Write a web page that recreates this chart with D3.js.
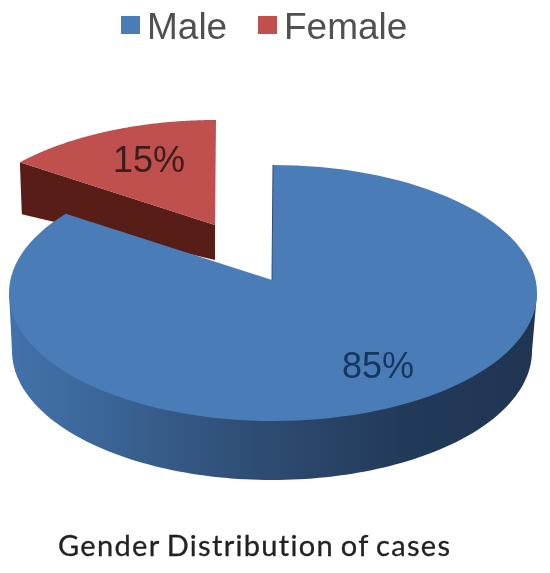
<!DOCTYPE html>
<html>
<head>
<meta charset="utf-8">
<script src="https://cdn.jsdelivr.net/npm/d3@7"></script>
<style>
  html, body { margin: 0; padding: 0; background: #fff; }
  svg { display: block; filter: blur(0.6px); }
  text { font-family: "Liberation Sans", Arial, sans-serif; }
</style>
</head>
<body>
<div id="chart"></div>
<script>
// chart data
var categories = ["Male", "Female"];
var shares = [85, 15];
var title = "Gender Distribution of cases";

// colours for each slice
var topColors = ["#4a7db8", "#c0504d"];
var labelColors = ["#17365d", "#3b1d1b"];

var width = 550, height = 573;

var svg = d3.select("#chart")
  .append("svg")
    .attr("width", width)
    .attr("height", height);

// side wall of the male slice goes from mid blue to dark navy
var grad = svg.append("defs").append("linearGradient")
    .attr("id", "wall")
    .attr("gradientUnits", "userSpaceOnUse")
    .attr("x1", 10).attr("x2", 537).attr("y1", 0).attr("y2", 0);
[[0, "#4272ac"], [0.17, "#3b6698"], [0.36, "#33557f"], [0.5, "#2d4a70"], [0.75, "#223a5a"], [1, "#1f3552"]]
  .forEach(function(s) {
    grad.append("stop").attr("offset", s[0]).attr("stop-color", s[1]);
  });

// angles come from the values, clockwise from the top
var pie = d3.pie().sort(null)(shares);

// the picture is in perspective so the slice edges sit a little further round
var maleEnd = pie[0].endAngle + 0.04;
var femaleStart = pie[1].startAngle + 0.105;

// tilted ellipse for the top face
var male = {cx: 273, cy: 293, rx: 264, ry: 128, vx: 272, vy: 280};
var female = {cx: 216, cy: 248, rx: 264, ry: 128, vx: 215, vy: 225};
var base = {cx: 272, cy: 351, rx: 260, ry: 129};

function rim(e, a) {
  return [e.cx + e.rx * Math.sin(a), e.cy - e.ry * Math.cos(a)];
}

function arcPoints(e, a0, a1) {
  var n = 120;
  return d3.range(n + 1).map(function(i) {
    return rim(e, a0 + (a1 - a0) * i / n);
  });
}

var line = d3.line();

// female slice: dark wall first, then the top face
var femaleLeft = rim(female, femaleStart);
var femaleDepthLeft = 52, femaleDepthVertex = 35;
svg.append("path")
  .attr("d", line([
    femaleLeft,
    [female.vx, female.vy],
    [female.vx, female.vy + femaleDepthVertex],
    [femaleLeft[0] + 2, femaleLeft[1] + femaleDepthLeft]
  ]) + "Z")
  .attr("fill", "#581d16");

svg.append("path")
  .attr("d", line([[female.vx, female.vy]].concat(arcPoints(female, femaleStart, pie[1].endAngle))) + "Z")
  .attr("fill", topColors[1]);

// male slice: outer wall, then top face
var wallPts = [[male.cx + male.rx, male.cy]]
  .concat(arcPoints(base, Math.PI / 2, Math.PI * 1.5))
  .concat([[male.cx - male.rx, male.cy]]);
svg.append("path")
  .attr("d", line(wallPts) + "Z")
  .attr("fill", "url(#wall)");

svg.append("path")
  .attr("d", line([[male.vx, male.vy]].concat(arcPoints(male, pie[0].startAngle, maleEnd))) + "Z")
  .attr("fill", topColors[0]);

// thin dark inner edge along the cut
svg.append("path")
  .attr("d", line([rim(male, 0), [male.vx, male.vy]]))
  .attr("stroke", "#2f4f78")
  .attr("stroke-width", 1)
  .attr("fill", "none");

// percent labels
var labelPos = [[378, 378], [149, 172]];
svg.selectAll(".pct")
  .data(shares)
  .enter()
  .append("text")
    .attr("class", "pct")
    .attr("x", function(d, i) { return labelPos[i][0]; })
    .attr("y", function(d, i) { return labelPos[i][1]; })
    .attr("text-anchor", "middle")
    .attr("font-size", 36)
    .attr("fill", function(d, i) { return labelColors[i]; })
    .text(function(d) { return d + "%"; });

// legend
var legendX = [121, 258];
var legend = svg.selectAll(".legend")
  .data(categories)
  .enter()
  .append("g")
    .attr("class", "legend")
    .attr("transform", function(d, i) { return "translate(" + legendX[i] + ",0)"; });

legend.append("rect")
    .attr("y", 16)
    .attr("width", 19)
    .attr("height", 18)
    .attr("fill", function(d, i) { return topColors[i]; });

legend.append("text")
    .attr("x", 26)
    .attr("y", 39)
    .attr("font-size", 37)
    .attr("fill", "#505050")
    .text(function(d) { return d; });

// title under the pie
svg.append("text")
    .attr("x", 58)
    .attr("y", 556)
    .attr("font-size", 29)
    .attr("textLength", 392)
    .attr("fill", "#222")
    .attr("stroke", "#222")
    .attr("stroke-width", 0.3)
    .style("font-family", "Lato, sans-serif")
    .style("font-variant-ligatures", "none")
    .style("word-spacing", "-2px")
    .text(title);
</script>
</body>
</html>
